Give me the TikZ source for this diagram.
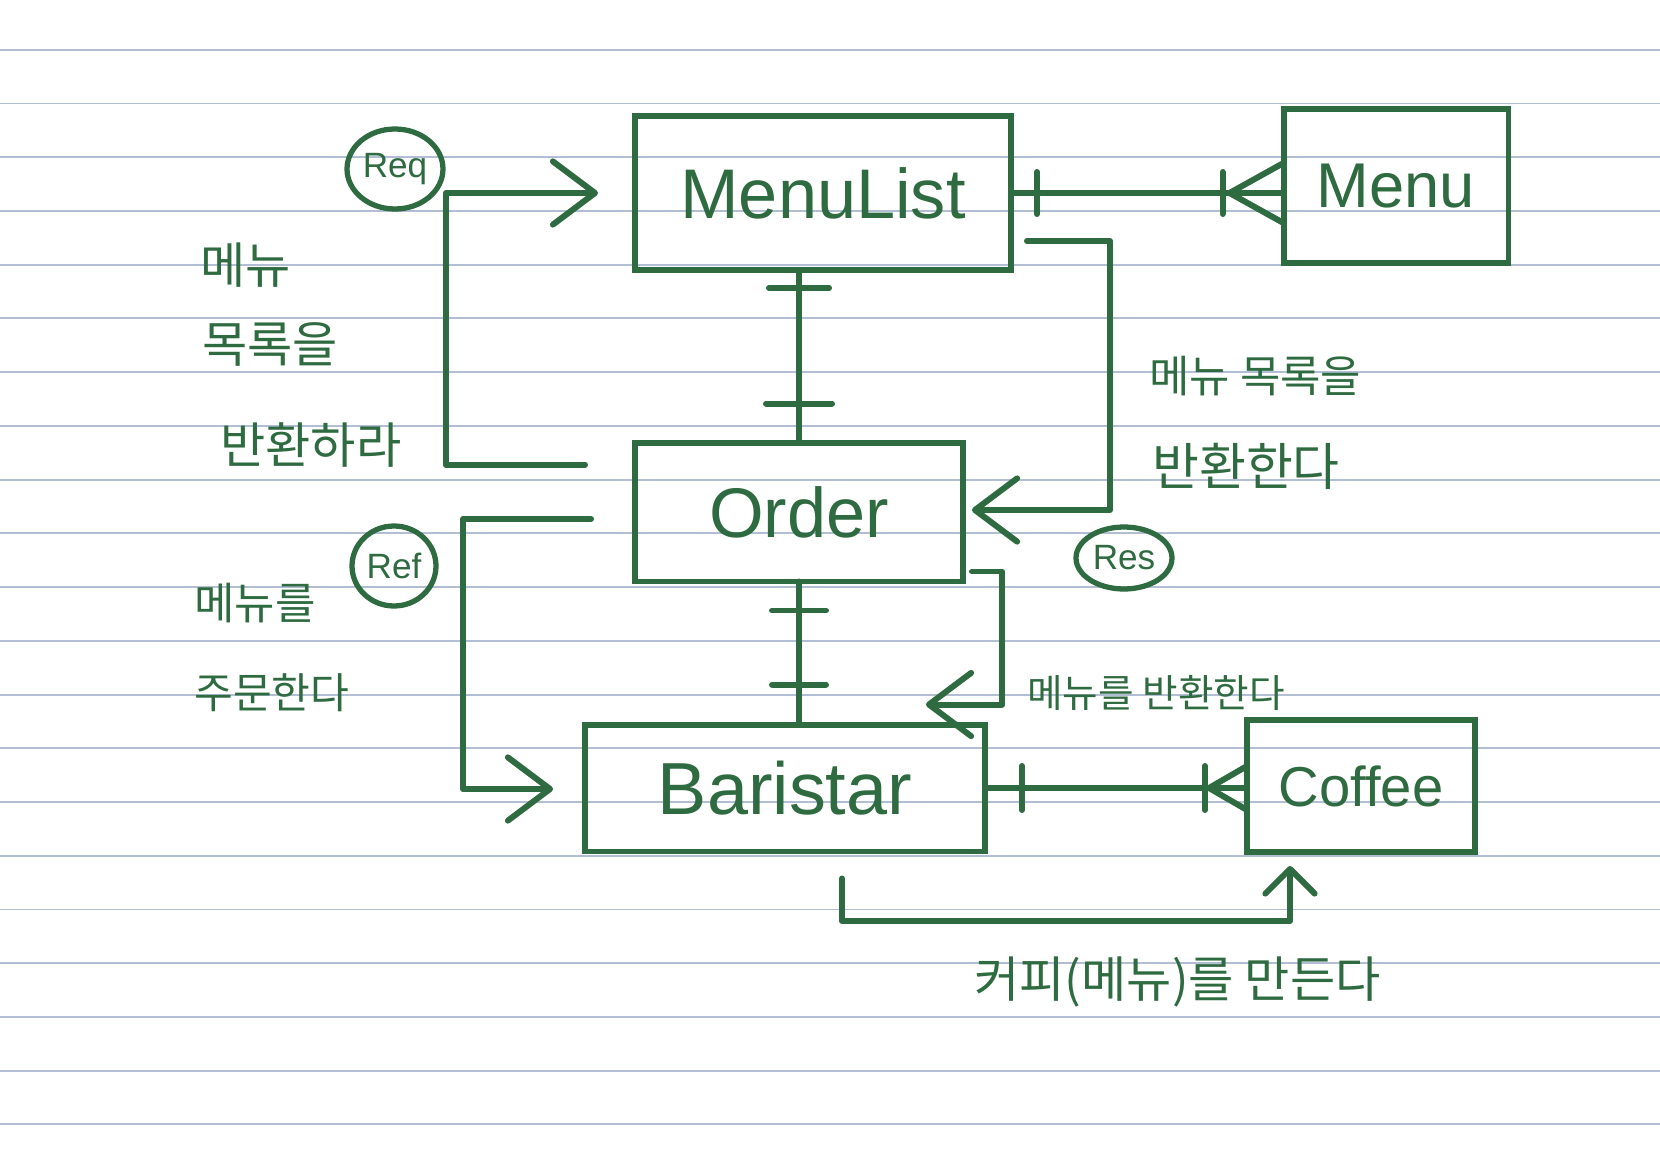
\documentclass[tikz,border=0pt]{standalone}
\usepackage{fontspec}
\setmainfont{Liberation Sans}
\newfontfamily\kor{Noto Sans CJK KR}
\usetikzlibrary{arrows.meta, calc, shapes.geometric}
\definecolor{ink}{RGB}{47,107,64}
\definecolor{ruling}{RGB}{178,190,212}
\tikzset{
    entity/.style = {draw = ink, line width = 3.4pt, inner sep = 0, outer sep = 0, text = ink, font = \fontsize{40}{48}\selectfont},
    tag/.style = {draw = ink, ellipse, line width = 3pt, inner sep = 0, text = ink, font = \fontsize{20}{24}\selectfont},
    note/.style = {anchor = west, inner sep = 0, text = ink, font = \kor\fontsize{28}{32}\selectfont},
    link/.style = {ink, line width = 3.4pt, line cap = round, line join = round},
    msg/.style = {link, -{Straight Barb[length = 24pt, width = 36pt, round]}}
}

\begin{document}
\begin{tikzpicture}[x = 0.02cm, y = -0.02cm]

        \fill[white] (0, 0) rectangle (1660, 1152);
        \useasboundingbox (0, 0) rectangle (1660, 1152);
        \foreach \k in {0, ..., 20}
            \draw[ruling, line width = 1.1pt] (0, {49.8 + 53.73*\k}) -- (1660, {49.8 + 53.73*\k});

        \node[entity, minimum width = 7.52cm, minimum height = 3.08cm] (mlist) at (823, 193) {MenuList};
        \node[entity, minimum width = 4.5cm, minimum height = 3.08cm, font = \fontsize{36}{42}\selectfont] (menu) at (1396, 186) {Menu};
        \node[entity, minimum width = 6.56cm, minimum height = 2.78cm] (order) at (799, 512) {Order\hspace{0.3cm}};
        \node[entity, minimum width = 8cm, minimum height = 2.54cm, font = \fontsize{42}{50}\selectfont] (barista) at (785, 788) {Baristar\hspace{0.4cm}};
        \node[entity, minimum width = 4.56cm, minimum height = 2.64cm, font = \fontsize{32}{38}\selectfont] (coffee) at (1361, 786) {Coffee};

        \node[tag, minimum width = 1.92cm, minimum height = 1.6cm] (req) at (395, 169) {Req};
        \node[tag, minimum width = 1.68cm, minimum height = 1.6cm] (ref) at (394, 566) {Ref};
        \node[tag, minimum width = 1.92cm, minimum height = 1.24cm] (res) at (1124, 558) {Res};

        % relations
        \coordinate (mm) at (mlist.east -| menu.west);
        \draw[link] (mlist.east) -- (mm);
        \draw[link] ($(mlist.east) + (26, -21)$) -- ($(mlist.east) + (26, 21)$);
        \draw[link] ($(mm) + (-61, -21)$) -- ($(mm) + (-61, 21)$);
        \draw[link] ($(mm) + (0, -30)$) -- ($(mm) + (-54, 0)$) -- ($(mm) + (0, 30)$);

        \coordinate (mo) at (order.north |- mlist.south);
        \draw[link] (mo) -- (order.north);
        \draw[link] ($(mo) + (-30, 18)$) -- ($(mo) + (30, 18)$);
        \draw[link] ($(order.north) + (-33, -39)$) -- ($(order.north) + (33, -39)$);

        \coordinate (ob) at (order.south |- barista.north);
        \draw[link] (order.south) -- (ob);
        \draw[link] ($(order.south) + (-27, 29)$) -- ($(order.south) + (27, 29)$);
        \draw[link] ($(ob) + (-27, -40)$) -- ($(ob) + (27, -40)$);

        \coordinate (bc) at (barista.east -| coffee.west);
        \draw[link] (barista.east) -- (bc);
        \draw[link] ($(barista.east) + (37, -22)$) -- ($(barista.east) + (37, 22)$);
        \draw[link] ($(bc) + (-42, -22)$) -- ($(bc) + (-42, 22)$);
        \draw[link] ($(bc) + (0, -22)$) -- ($(bc) + (-38, 0)$) -- ($(bc) + (0, 22)$);

        % messages
        \coordinate (reqfrom) at ($(order.north west) + (-50, 22)$);
        \coordinate (reqin) at ($(mlist.west) + (-37, 0)$);
        \draw[msg] (reqfrom) -| (reqin -| req.east) -- (reqin);

        \coordinate (resfrom) at ($(mlist.south east) + (16, -29)$);
        \coordinate (resin) at ($(order.east) + (9, -2)$);
        \draw[msg] (resfrom) -| ($(resin) + (138, 0)$) -- (resin);

        \coordinate (reffrom) at ($(order.west) + (-44, 7)$);
        \coordinate (refin) at ($(barista.west) + (-32, 1)$);
        \draw[msg] (reffrom) -| ($(refin) + (-90, 0)$) -- (refin);

        \coordinate (retfrom) at ($(order.south east) + (9, -10)$);
        \coordinate (retin) at ($(barista.north east) + (-59, -20)$);
        \draw[msg] (retfrom) -| ($(retin) + (76, 0)$) -- (retin);

        \coordinate (makefrom) at ($(barista.south) + (57, 27)$);
        \coordinate (makein) at ($(coffee.south) + (-71, 14)$);
        \draw[link, -{Straight Barb[length = 14pt, width = 28pt, round]}] (makefrom) |- ($(makein) + (0, 55)$) -- (makein);

        % notes
        \node[note] (reqa) at (200, 265) {메뉴};
        \node[note] (reqb) at (202, 344) {목록을};
        \node[note] (reqc) at (220, 445) {반환하라};
        \node[note, font = \kor\fontsize{25}{30}\selectfont] (refa) at (194, 603) {메뉴를};
        \node[note, font = \kor\fontsize{24}{28}\selectfont] (refb) at (194, 693) {주문한다};
        \node[note, font = \kor\fontsize{25}{30}\selectfont] (resa) at (1149, 376) {메뉴 목록을};
        \node[note, font = \kor\fontsize{29}{34}\selectfont] (resb) at (1152, 466) {반환한다};
        \node[note, font = \kor\fontsize{22}{26}\selectfont] (reta) at (1027, 693) {메뉴를 반환한다};
        \node[note] (makea) at (974, 982) {커피(메뉴)를 만든다};

\end{tikzpicture}
\end{document}
